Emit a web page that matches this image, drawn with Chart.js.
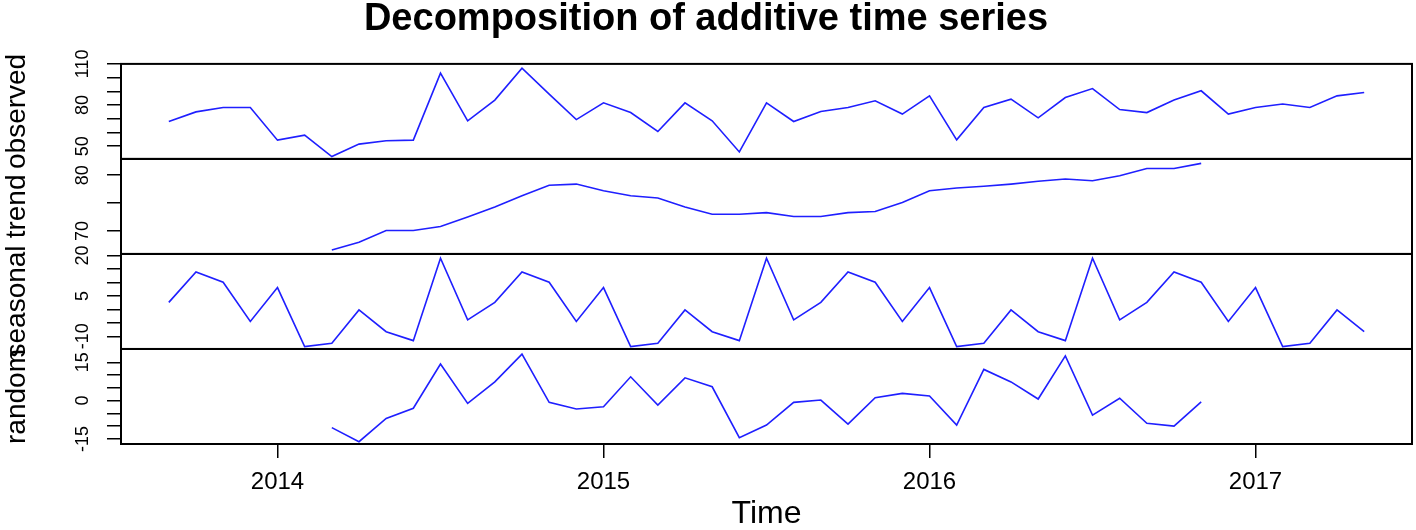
<!DOCTYPE html>
<html>
<head>
<meta charset="utf-8">
<title>Decomposition of additive time series</title>
<script src="https://cdn.jsdelivr.net/npm/chart.js@4.4.1/dist/chart.umd.min.js"></script>
<style>
html, body { margin: 0; padding: 0; background: #fff; }
canvas { display: block; }
</style>
</head>
<body>
<canvas id="chart" width="1416" height="530"></canvas>
<script>
// monthly series, Sep 2013 .. May 2017
const startYear = 2013;
const startMonth = 9;
const nMonths = 45;
const times = [];
for (let i = 0; i < nMonths; i++) times.push(startYear + (startMonth - 1 + i) / 12);

const observed = [68.0, 75.0, 78.2, 78.2, 54.4, 58.0, 42.4, 51.5, 53.9, 54.4, 103.3, 68.5,
    83.6, 106.9, 88.0, 69.4, 81.6, 74.5, 60.7, 81.6, 68.5, 45.8, 81.6, 68.0,
    75.3, 78.2, 83.1, 73.4, 86.7, 54.6, 78.2, 84.3, 70.7, 85.5, 92.0, 76.7,
    74.5, 83.6, 90.4, 73.4, 78.2, 80.7, 78.2, 86.7, 89.1];

const trend = [null, null, null, null, null, null,
    66.6, 68.0, 70.1, 70.1, 70.8, 72.5, 74.3, 76.3, 78.2, 78.4,
    77.2, 76.3, 75.9, 74.3, 73.0, 73.0, 73.3, 72.6, 72.6, 73.3, 73.5, 75.1,
    77.2, 77.7, 78.0, 78.4, 78.9, 79.3, 79.0, 79.9, 81.2, 81.2, 82.1,
    null, null, null, null, null, null];

const seasonal = [2.6, 13.9, 10.1, -4.5, 8.1, -13.8, -12.6, -0.2, -8.3, -11.6, 19.0, -3.9,
    2.6, 13.9, 10.1, -4.5, 8.1, -13.8, -12.6, -0.2, -8.3, -11.6, 19.0, -3.9,
    2.6, 13.9, 10.1, -4.5, 8.1, -13.8, -12.6, -0.2, -8.3, -11.6, 19.0, -3.9,
    2.6, 13.9, 10.1, -4.5, 8.1, -13.8, -12.6, -0.2, -8.3];

const random = [null, null, null, null, null, null,
    -10.6, -16.1, -7.0, -3.0, 14.3, -1.1, 7.3, 18.2, -0.7, -3.3,
    -2.4, 9.3, -1.8, 8.9, 5.4, -14.5, -9.6, -0.7, 0.2, -9.2, 1.1, 2.8,
    1.8, -9.6, 12.2, 7.3, 0.6, 17.5, -5.7, 0.9, -8.9, -10.0, -0.5,
    null, null, null, null, null, null];

const panelNames = ['observed', 'trend', 'seasonal', 'random'];
const panelIds = ['yObs', 'yTrend', 'ySeas', 'yRand'];
const panelRanges = [[40.7, 110.0], [65.9, 82.9], [-14.7, 20.6], [-17.0, 20.2]];
const panelTicks = [[50, 60, 70, 80, 90, 100, 110], [70, 75, 80], [-10, -5, 0, 5, 10, 15, 20], [-15, -10, -5, 0, 5, 10, 15]];
const panelLabels = [[50, 80, 110], [70, 80], [-10, 5, 20], [-15, 0, 15]];
const xTicks = [2014, 2015, 2016, 2017];

const FONT = '"Liberation Sans", Arial, Helvetica, sans-serif';
Chart.defaults.font.family = FONT;
Chart.defaults.color = '#000';

const lineBlue = '#1f1fff';
const seriesList = [observed, trend, seasonal, random];

const datasets = seriesList.map((vals, k) => ({
    label: panelNames[k],
    data: vals.map((v, i) => ({ x: times[i], y: v })),
    yAxisID: panelIds[k],
    borderColor: lineBlue,
    borderWidth: 1.6,
    pointRadius: 0,
    tension: 0,
    spanGaps: false
}));

const scales = {
    x: {
        type: 'linear',
        min: 2013.52,
        max: 2017.48,
        afterBuildTicks: s => { s.ticks = xTicks.map(v => ({ value: v })); },
        afterFit: s => { s.height = 86; },
        ticks: { font: { size: 24 }, padding: 10, maxRotation: 0, callback: v => String(v) },
        grid: { drawOnChartArea: false, drawTicks: true, tickLength: 14, color: '#000', lineWidth: 1.5 },
        border: { display: false },
        title: { display: true, text: 'Time', font: { size: 32, lineHeight: 1.0 }, padding: { top: 0, bottom: 0 } }
    }
};

// stacked axes are laid out bottom-up, so add them last panel first
for (let k = panelIds.length - 1; k >= 0; k--) {
    scales[panelIds[k]] = {
        type: 'linear',
        position: 'left',
        stack: 'panels',
        stackWeight: 1,
        min: panelRanges[k][0],
        max: panelRanges[k][1],
        afterBuildTicks: s => { s.ticks = panelTicks[k].map(v => ({ value: v })); },
        afterFit: s => { s.width = 121; },
        ticks: { display: false },
        grid: { drawOnChartArea: false, drawTicks: true, tickLength: 14, color: '#000', lineWidth: 1.5 },
        border: { display: false },
        title: { display: true, text: panelNames[k], font: { size: 28 }, padding: { top: 0, bottom: 0 } }
    };
}

// panel boxes + rotated y labels like base R
const panelFrames = {
    id: 'panelFrames',
    afterDatasetsDraw(chart) {
        const { ctx, chartArea } = chart;
        ctx.save();
        ctx.strokeStyle = '#000';
        ctx.lineWidth = 2;
        panelIds.forEach(id => {
            const s = chart.scales[id];
            ctx.strokeRect(chartArea.left, s.top, chartArea.right - chartArea.left, s.bottom - s.top);
        });
        ctx.fillStyle = '#000';
        ctx.font = '18px ' + FONT;
        ctx.textAlign = 'center';
        ctx.textBaseline = 'middle';
        panelIds.forEach((id, k) => {
            const s = chart.scales[id];
            panelLabels[k].forEach(v => {
                ctx.save();
                ctx.translate(83, s.getPixelForValue(v));
                ctx.rotate(-Math.PI / 2);
                ctx.fillText(String(v), 0, 0);
                ctx.restore();
            });
        });
        ctx.restore();
    }
};

new Chart(document.getElementById('chart'), {
    type: 'line',
    data: { datasets: datasets },
    options: {
        responsive: false,
        animation: false,
        layout: { padding: { top: 0, right: 4, bottom: 0, left: 0 } },
        plugins: {
            legend: { display: false },
            tooltip: { enabled: false },
            title: {
                display: true,
                text: 'Decomposition of additive time series',
                font: { size: 38, weight: 'bold', lineHeight: 1.05 },
                padding: { top: 0, bottom: 24 }
            }
        },
        scales: scales
    },
    plugins: [panelFrames]
});
</script>
</body>
</html>
